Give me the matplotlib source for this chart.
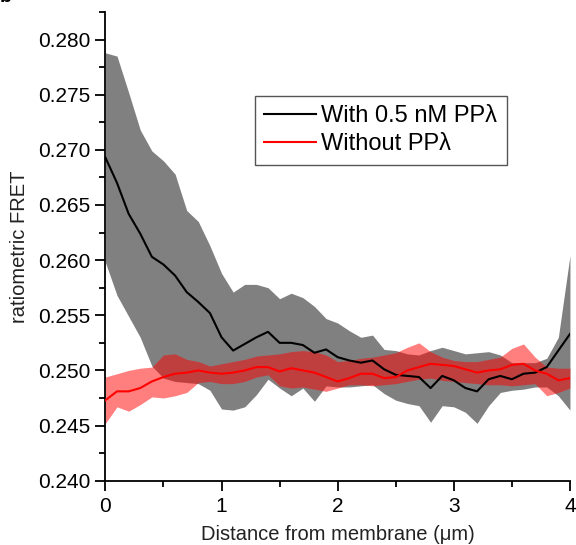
import numpy as np
import matplotlib
matplotlib.use("Agg")
import matplotlib.pyplot as plt
from matplotlib.ticker import MultipleLocator

plt.rcParams['font.family'] = ['Liberation Sans', 'DejaVu Sans']

distance = np.round(np.arange(0, 4.01, 0.1), 2)

with_mean = [0.2693, 0.2670, 0.2642, 0.2624, 0.2603, 0.2596, 0.2586, 0.2571, 0.2562, 0.2552,
             0.2530, 0.2518, 0.2524, 0.2530, 0.2535, 0.2525, 0.2525, 0.2523, 0.2516, 0.2519,
             0.2512, 0.2509, 0.2507, 0.2509, 0.2501, 0.2496, 0.2495, 0.2494, 0.2484, 0.2495,
             0.2491, 0.2484, 0.2481, 0.2492, 0.2495, 0.2492, 0.2497, 0.2498, 0.2503, 0.2518,
             0.2533]
with_upper = [0.2788, 0.2785, 0.2752, 0.2718, 0.2699, 0.2690, 0.2678, 0.2645, 0.2635, 0.2613,
              0.2588, 0.2571, 0.2578, 0.2578, 0.2575, 0.2565, 0.2570, 0.2566, 0.2558, 0.2547,
              0.2543, 0.2536, 0.2530, 0.2532, 0.2519, 0.2518, 0.2515, 0.2514, 0.2518, 0.2521,
              0.2518, 0.2515, 0.2516, 0.2517, 0.2514, 0.2507, 0.2507, 0.2507, 0.2511, 0.2530,
              0.2604]
with_lower = [0.2598, 0.2568, 0.2549, 0.2530, 0.2504, 0.2493, 0.2490, 0.2489, 0.2488, 0.2482,
              0.2465, 0.2464, 0.2467, 0.2478, 0.2492, 0.2484, 0.2477, 0.2484, 0.2472, 0.2486,
              0.2485, 0.2485, 0.2486, 0.2487, 0.2479, 0.2473, 0.2470, 0.2468, 0.2453, 0.2468,
              0.2467, 0.2462, 0.2452, 0.2468, 0.2480, 0.2482, 0.2483, 0.2485, 0.2485, 0.2477,
              0.2464]

without_mean = [0.2473, 0.2481, 0.2481, 0.2484, 0.2490, 0.2494, 0.2497, 0.2498, 0.2500, 0.2498,
                0.2497, 0.2498, 0.2500, 0.2503, 0.2503, 0.2499, 0.2502, 0.2500, 0.2498, 0.2494,
                0.2490, 0.2493, 0.2497, 0.2497, 0.2493, 0.2494, 0.2500, 0.2503, 0.2506, 0.2505,
                0.2504, 0.2501, 0.2498, 0.2500, 0.2501, 0.2505, 0.2506, 0.2500, 0.2497, 0.2491,
                0.2493]
without_upper = [0.2494, 0.2497, 0.2500, 0.2502, 0.2503, 0.2514, 0.2515, 0.2510, 0.2508, 0.2504,
                 0.2506, 0.2508, 0.2510, 0.2513, 0.2514, 0.2515, 0.2517, 0.2518, 0.2517, 0.2514,
                 0.2508, 0.2509, 0.2511, 0.2512, 0.2514, 0.2516, 0.2521, 0.2525, 0.2517, 0.2512,
                 0.2509, 0.2508, 0.2508, 0.2510, 0.2512, 0.2520, 0.2524, 0.2512, 0.2503, 0.2502,
                 0.2502]
without_lower = [0.2452, 0.2467, 0.2463, 0.2469, 0.2476, 0.2475, 0.2477, 0.2480, 0.2489, 0.2490,
                 0.2488, 0.2488, 0.2490, 0.2494, 0.2496, 0.2486, 0.2484, 0.2485, 0.2483, 0.2481,
                 0.2484, 0.2487, 0.2487, 0.2486, 0.2487, 0.2488, 0.2490, 0.2492, 0.2493, 0.2491,
                 0.2490, 0.2489, 0.2488, 0.2487, 0.2487, 0.2486, 0.2487, 0.2488, 0.2477, 0.2480,
                 0.2484]

labels = ["With 0.5 nM PP\u03bb", "Without PP\u03bb"]

fig = plt.figure(figsize=(5.76, 5.45), dpi=100)
ax = fig.add_axes([0.183, 0.118, 0.8065, 0.860])

ax.fill_between(distance, with_lower, with_upper, color='#808080', linewidth=0, zorder=1)
ax.fill_between(distance, without_lower, without_upper, color='red', alpha=0.5, linewidth=0, zorder=2)
ax.plot(distance, with_mean, color='black', lw=1.5, label=labels[0], zorder=3)
ax.plot(distance, without_mean, color='red', lw=1.5, label=labels[1], zorder=4)

ax.set_xlim(0, 4)
ax.set_ylim(0.240, 0.2825)
ax.xaxis.set_major_locator(MultipleLocator(1))
ax.xaxis.set_minor_locator(MultipleLocator(0.5))
ax.yaxis.set_major_locator(MultipleLocator(0.005))
ax.yaxis.set_minor_locator(MultipleLocator(0.0025))
ax.yaxis.set_major_formatter(plt.FormatStrFormatter('%.3f'))

for s in ['top', 'right']:
    ax.spines[s].set_visible(False)
for s in ['left', 'bottom']:
    ax.spines[s].set_linewidth(1.3)

ax.tick_params(which='major', direction='out', length=7, width=1.3, labelsize=15, colors='black')
ax.tick_params(which='minor', direction='out', length=4, width=1.3)
ax.tick_params(axis='x', pad=5)
ax.tick_params(axis='y', pad=4)

ax.set_xlabel("Distance from membrane (\u03bcm)", fontsize=14.5, color='#222222', labelpad=6)
ax.set_ylabel("ratiometric FRET", fontsize=14.5, color='#222222', labelpad=6)

leg = ax.legend(loc='upper left', bbox_to_anchor=(0.322, 0.821), borderaxespad=0,
                fontsize=17, fancybox=False, framealpha=1, edgecolor='#555555',
                handlelength=2.2, handletextpad=0.2, borderpad=0.4, labelspacing=0.25)
leg.get_frame().set_linewidth(1.0)

fig.text(0.0, 1.005, 'b', fontsize=14, fontweight='bold', va='center', ha='left')

fig.savefig('out.png', dpi=100)
